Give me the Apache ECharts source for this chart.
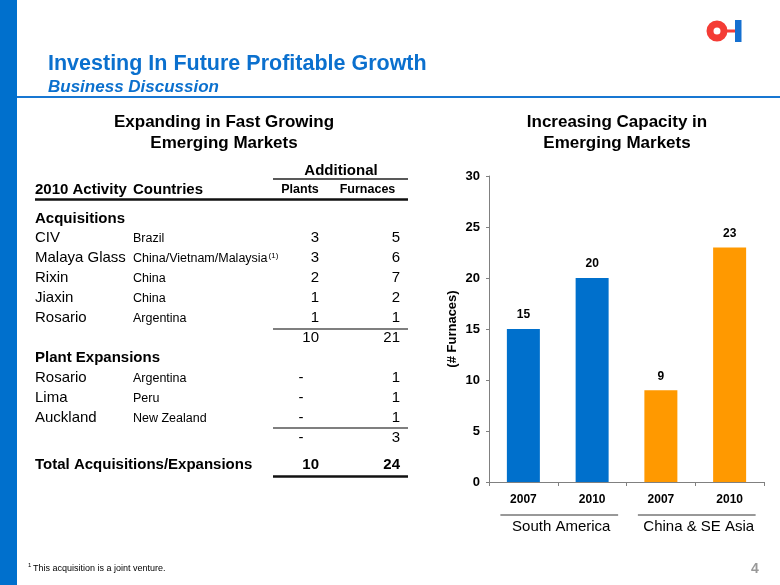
<!DOCTYPE html>
<html><head><meta charset="utf-8">
<script src="https://cdn.jsdelivr.net/npm/echarts@6/dist/echarts.min.js"></script>
<style>html,body{margin:0;padding:0;background:#fff}#c{width:780px;height:585px}</style>
</head><body><div id="c"></div>
<script>
// ---- chart data ----
const categories = ['2007', '2010', '2007', '2010'];
const categoryRegion = [0, 0, 1, 1];
const regionNames = ['South America', 'China & SE Asia'];
const furnaceCounts = [15, 20, 9, 23];
const regionColors = ['#0070CC', '#FF9900'];
const yTicks = [0, 5, 10, 15, 20, 25, 30];

// ---- table data ----
const acqNames = ['CIV', 'Malaya Glass', 'Rixin', 'Jiaxin', 'Rosario'];
const acqCountries = ['Brazil', 'China/Vietnam/Malaysia', 'China', 'China', 'Argentina'];
const acqNotes = ['', '(1)', '', '', ''];
const acqPlants = ['3', '3', '2', '1', '1'];
const acqFurnaces = ['5', '6', '7', '2', '1'];
const acqTotals = ['10', '21'];
const expNames = ['Rosario', 'Lima', 'Auckland'];
const expCountries = ['Argentina', 'Peru', 'New Zealand'];
const expPlants = ['-', '-', '-'];
const expFurnaces = ['1', '1', '1'];
const expTotals = ['-', '3'];
const grandTotals = ['10', '24'];

const FF = '"Liberation Sans", Arial, Helvetica, sans-serif';
const chart = echarts.init(document.getElementById('c'), null, {renderer: 'canvas'});

chart.setOption({
  animation: false,
  backgroundColor: '#fff',
  grid: {left: 489, right: 16, top: 176, bottom: 103, containLabel: false},
  xAxis: {
    type: 'category', data: categories,
    axisLine: {lineStyle: {color: '#808080', width: 1}},
    axisTick: {show: true, length: 4, lineStyle: {color: '#808080'}},
    axisLabel: {color: '#000', fontWeight: 'bold', fontSize: 12, fontFamily: FF, margin: 12}
  },
  yAxis: {
    type: 'value', min: yTicks[0], max: yTicks[yTicks.length - 1], interval: yTicks[1] - yTicks[0],
    name: '(# Furnaces)', nameLocation: 'middle', nameGap: 30, nameRotate: 90,
    nameTextStyle: {color: '#000', fontWeight: 'bold', fontSize: 13, fontFamily: FF},
    axisLine: {show: true, lineStyle: {color: '#808080', width: 1}},
    axisTick: {show: true, length: 3, lineStyle: {color: '#808080'}},
    splitLine: {show: false},
    axisLabel: {color: '#000', fontWeight: 'bold', fontSize: 13, fontFamily: FF, margin: 9}
  },
  series: [{
    type: 'bar', barWidth: 33,
    data: furnaceCounts.map((v, i) => ({value: v, itemStyle: {color: regionColors[categoryRegion[i]]}})),
    label: {show: true, position: 'top', distance: 8, color: '#000', fontWeight: 'bold', fontSize: 12, fontFamily: FF}
  }]
});

// ---- static page elements ----
const g = [];
function txt(x, baseline, text, size, opts) {
  opts = opts || {};
  g.push({
    type: 'text', x: x, y: baseline - size * 0.36, silent: true,
    style: {
      text: text, fill: opts.color || '#000',
      font: (opts.style || 'normal') + ' ' + (opts.weight || 'normal') + ' ' + size + 'px ' + FF,
      align: opts.align || 'left', verticalAlign: 'middle'
    }
  });
}
function hline(x1, x2, y, w, color) {
  g.push({type: 'line', silent: true, shape: {x1: x1, y1: y, x2: x2, y2: y}, style: {stroke: color || '#000', lineWidth: w}});
}
const measureCtx = document.createElement('canvas').getContext('2d');
function textWidth(t, font) { measureCtx.font = font; return measureCtx.measureText(t).width; }

// left strip and header rule
g.push({type: 'rect', silent: true, shape: {x: 0, y: 0, width: 17, height: 585}, style: {fill: '#0070CD'}});
hline(17, 780, 97, 2, '#1877D2');
// title
txt(48, 72, 'Investing In Future Profitable Growth', 21.5, {weight: 'bold', color: '#0B70CE'});
txt(48, 93, 'Business Discussion', 17, {weight: 'bold', style: 'italic', color: '#0B70CE'});
// logo
g.push({type: 'ring', silent: true, shape: {cx: 717, cy: 31, r: 10.5, r0: 3.5}, style: {fill: '#F43C35'}});
g.push({type: 'rect', silent: true, shape: {x: 726, y: 29.5, width: 9, height: 3}, style: {fill: '#F43C35'}});
g.push({type: 'rect', silent: true, shape: {x: 735, y: 20, width: 6.5, height: 22}, style: {fill: '#1570D0'}});

// section headings
txt(224, 128, 'Expanding in Fast Growing', 17, {weight: 'bold', align: 'center'});
txt(224, 149, 'Emerging Markets', 17, {weight: 'bold', align: 'center'});
txt(617, 128, 'Increasing Capacity in', 17, {weight: 'bold', align: 'center'});
txt(617, 149, 'Emerging Markets', 17, {weight: 'bold', align: 'center'});

// table
const colName = 35, colCountry = 133, colPlants = 319, colFurn = 400, dashX = 301;
txt(341, 176, 'Additional', 15, {weight: 'bold', align: 'center'});
hline(273, 408, 179, 1.5, '#222');
txt(colName, 195, '2010 Activity', 15, {weight: 'bold'});
txt(colCountry, 195, 'Countries', 15, {weight: 'bold'});
txt(300, 194, 'Plants', 12.5, {weight: 'bold', align: 'center'});
txt(367.5, 194, 'Furnaces', 12.5, {weight: 'bold', align: 'center'});
hline(35, 408, 199.5, 2.5, '#111');

function numCell(val, right, baseline, weight) {
  if (val === '-') txt(dashX, baseline, '-', 15, {align: 'center'});
  else txt(right, baseline, val, 15, {align: 'right', weight: weight});
}
txt(colName, 224, 'Acquisitions', 15, {weight: 'bold'});
acqNames.forEach((n, i) => {
  const b = 243 + i * 20;
  txt(colName, b, n, 15);
  txt(colCountry, b, acqCountries[i], 12.5);
  if (acqNotes[i]) {
    const w = textWidth(acqCountries[i], 'normal normal 12.5px ' + FF);
    txt(colCountry + w + 1, b - 4, acqNotes[i], 8);
  }
  numCell(acqPlants[i], colPlants, b);
  numCell(acqFurnaces[i], colFurn, b);
});
hline(273, 408, 329, 1.5, '#555');
numCell(acqTotals[0], colPlants, 343);
numCell(acqTotals[1], colFurn, 343);

txt(colName, 363, 'Plant Expansions', 15, {weight: 'bold'});
expNames.forEach((n, i) => {
  const b = 383 + i * 20;
  txt(colName, b, n, 15);
  txt(colCountry, b, expCountries[i], 12.5);
  numCell(expPlants[i], colPlants, b);
  numCell(expFurnaces[i], colFurn, b);
});
hline(273, 408, 428, 1.5, '#555');
numCell(expTotals[0], colPlants, 443);
numCell(expTotals[1], colFurn, 443);

txt(colName, 470, 'Total Acquisitions/Expansions', 15, {weight: 'bold'});
numCell(grandTotals[0], colPlants, 470, 'bold');
numCell(grandTotals[1], colFurn, 470, 'bold');
hline(273, 408, 476.5, 2.5, '#111');

// region group lines under x axis
regionNames.forEach((r, ri) => {
  const idx = categoryRegion.map((c, i) => c === ri ? i : -1).filter(i => i >= 0);
  const x1 = chart.convertToPixel({xAxisIndex: 0}, idx[0]) - 23;
  const x2 = chart.convertToPixel({xAxisIndex: 0}, idx[idx.length - 1]) + 26;
  hline(x1, x2, 515, 1, '#333');
  txt((x1 + x2) / 2 + 2, 532, r, 15, {align: 'center'});
});

// footnote + page number
txt(28, 568, '1', 6);
txt(33, 572, 'This acquisition is a joint venture.', 9);
txt(755, 574, '4', 14, {weight: 'bold', color: '#999', align: 'center'});

chart.setOption({graphic: g});
</script>
</body></html>
